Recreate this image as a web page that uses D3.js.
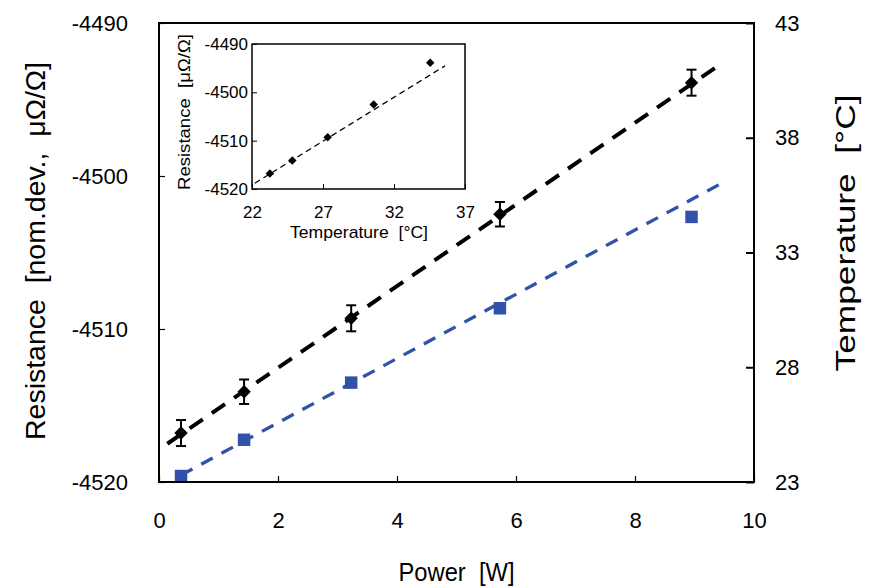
<!DOCTYPE html>
<html>
<head>
<meta charset="utf-8">
<script src="https://cdn.jsdelivr.net/npm/d3@7"></script>
<style>
  body { margin: 0; background: #fff; }
  svg text { font-family: "Liberation Sans", Arial, sans-serif; fill: #000; white-space: pre; }
</style>
</head>
<body>
<div id="chart"></div>
<script>
// values
var power = [0.37, 1.43, 3.23, 5.73, 8.95];
var resistance = [-4516.8, -4514.1, -4509.3, -4502.5, -4493.9];
var resErr = [0.85, 0.8, 0.85, 0.8, 0.85];
var temperature = [23.26, 24.84, 27.33, 30.57, 34.55];

// trend line end points
var resFit = [[0.14, -4517.5], [9.47, -4492.6]];
var tempFit = [[0.37, 23.3], [9.55, 36.15]];
var insetFit = [[22.2, -4518.8], [35.6, -4494.5]];

var powerTicks = [0, 2, 4, 6, 8, 10];
var resTicks = [-4520, -4510, -4500, -4490];
var tempTicks = [23, 28, 33, 38, 43];
var insetTempTicks = [22, 27, 32, 37];

var W = 877, H = 588;
var plot = {left: 159, right: 754, top: 23, bottom: 482};
var box = {left: 252, right: 465, top: 44, bottom: 189};
var blue = "#3152a8";
var plain = function(d) { return String(d); };

var svg = d3.select("#chart").append("svg")
  .attr("width", W)
  .attr("height", H);

var x = d3.scaleLinear().domain([0, 10]).range([plot.left, plot.right]);
var yL = d3.scaleLinear().domain([-4520, -4490]).range([plot.bottom, plot.top]);
var yR = d3.scaleLinear().domain([23, 43]).range([plot.bottom, plot.top]);

var pts = power.map(function(p, i) {
  return {p: p, r: resistance[i], e: resErr[i], t: temperature[i]};
});

// axes (inward ticks)
svg.append("g")
  .attr("transform", "translate(0," + plot.bottom + ")")
  .call(d3.axisBottom(x).tickValues(powerTicks).tickFormat(plain).tickSizeInner(-6).tickSizeOuter(0).tickPadding(30))
  .call(function(g) { g.select(".domain").remove(); })
  .call(function(g) { g.selectAll("text").attr("font-size", 22); g.selectAll("line").attr("stroke-width", 1.2); });

svg.append("g")
  .attr("transform", "translate(" + plot.left + ",0)")
  .call(d3.axisLeft(yL).tickValues(resTicks).tickFormat(plain).tickSizeInner(-6).tickSizeOuter(0).tickPadding(31))
  .call(function(g) { g.select(".domain").remove(); })
  .call(function(g) { g.selectAll("text").attr("font-size", 22); g.selectAll("line").attr("stroke-width", 1.2); });

svg.append("g")
  .attr("transform", "translate(" + plot.right + ",0)")
  .call(d3.axisRight(yR).tickValues(tempTicks).tickFormat(plain).tickSizeInner(-8).tickSizeOuter(0).tickPadding(21))
  .call(function(g) { g.select(".domain").remove(); })
  .call(function(g) { g.selectAll("text").attr("font-size", 22); g.selectAll("line").attr("stroke-width", 2); });

// trend lines
svg.append("path")
  .datum(tempFit)
  .attr("fill", "none")
  .attr("stroke", blue)
  .attr("stroke-width", 3.3)
  .attr("stroke-dasharray", "13,10")
  .attr("d", d3.line().x(function(d) { return x(d[0]); }).y(function(d) { return yR(d[1]); }));

svg.append("path")
  .datum(resFit)
  .attr("fill", "none")
  .attr("stroke", "#000")
  .attr("stroke-width", 4)
  .attr("stroke-dasharray", "16,11")
  .attr("d", d3.line().x(function(d) { return x(d[0]); }).y(function(d) { return yL(d[1]); }));

// temperature squares
svg.append("g").selectAll("path")
  .data(pts)
  .enter().append("path")
  .attr("transform", function(d) { return "translate(" + x(d.p) + "," + yR(d.t) + ")"; })
  .attr("d", d3.symbol().type(d3.symbolSquare).size(156))
  .attr("fill", blue);

// error bars
var eb = svg.append("g").attr("stroke", "#000").attr("stroke-width", 2);
pts.forEach(function(d) {
  var cx = x(d.p);
  eb.append("line").attr("x1", cx).attr("x2", cx).attr("y1", yL(d.r - d.e)).attr("y2", yL(d.r + d.e));
  eb.append("line").attr("x1", cx - 5).attr("x2", cx + 5).attr("y1", yL(d.r - d.e)).attr("y2", yL(d.r - d.e));
  eb.append("line").attr("x1", cx - 5).attr("x2", cx + 5).attr("y1", yL(d.r + d.e)).attr("y2", yL(d.r + d.e));
});

// resistance diamonds
svg.append("g").selectAll("path")
  .data(pts)
  .enter().append("path")
  .attr("transform", function(d) { return "translate(" + x(d.p) + "," + yL(d.r) + ") rotate(45)"; })
  .attr("d", d3.symbol().type(d3.symbolSquare).size(90))
  .attr("fill", "#000");

// frame
svg.append("rect")
  .attr("x", plot.left).attr("y", plot.top)
  .attr("width", plot.right - plot.left).attr("height", plot.bottom - plot.top)
  .attr("fill", "none").attr("stroke", "#000").attr("stroke-width", 2);

// axis titles
svg.append("text")
  .attr("x", (plot.left + plot.right) / 2).attr("y", 581)
  .attr("text-anchor", "middle").attr("font-size", 26)
  .attr("textLength", 116).attr("lengthAdjust", "spacingAndGlyphs")
  .text("Power  [W]");

svg.append("text")
  .attr("transform", "translate(36,251) rotate(-90)")
  .attr("text-anchor", "middle").attr("dy", "0.35em").attr("font-size", 27)
  .attr("textLength", 378).attr("lengthAdjust", "spacingAndGlyphs")
  .text("Resistance  [nom.dev.,  μΩ/Ω]");

svg.append("text")
  .attr("transform", "translate(846,233) rotate(-90)")
  .attr("text-anchor", "middle").attr("dy", "0.35em").attr("font-size", 27)
  .attr("textLength", 277).attr("lengthAdjust", "spacingAndGlyphs")
  .text("Temperature  [°C]");

// inset
var xi = d3.scaleLinear().domain([22, 37]).range([box.left, box.right]);
var yi = d3.scaleLinear().domain([-4520, -4490]).range([box.bottom, box.top]);

var inset = svg.append("g");

inset.append("rect")
  .attr("x", box.left).attr("y", box.top)
  .attr("width", box.right - box.left).attr("height", box.bottom - box.top)
  .attr("fill", "#fff");

inset.append("g")
  .attr("transform", "translate(0," + box.bottom + ")")
  .call(d3.axisBottom(xi).tickValues(insetTempTicks).tickFormat(plain).tickSizeInner(-5).tickSizeOuter(0).tickPadding(17))
  .call(function(g) { g.select(".domain").remove(); })
  .call(function(g) { g.selectAll("text").attr("font-size", 17); });

inset.append("g")
  .attr("transform", "translate(" + box.left + ",0)")
  .call(d3.axisLeft(yi).tickValues(resTicks).tickFormat(plain).tickSizeInner(-5).tickSizeOuter(0).tickPadding(4))
  .call(function(g) { g.select(".domain").remove(); })
  .call(function(g) { g.selectAll("text").attr("font-size", 17); });

inset.append("path")
  .datum(insetFit)
  .attr("fill", "none")
  .attr("stroke", "#000")
  .attr("stroke-width", 1.3)
  .attr("stroke-dasharray", "6,4")
  .attr("d", d3.line().x(function(d) { return xi(d[0]); }).y(function(d) { return yi(d[1]); }));

inset.append("g").selectAll("path")
  .data(pts)
  .enter().append("path")
  .attr("transform", function(d) { return "translate(" + xi(d.t) + "," + yi(d.r) + ") rotate(45)"; })
  .attr("d", d3.symbol().type(d3.symbolSquare).size(36))
  .attr("fill", "#000");

inset.append("rect")
  .attr("x", box.left).attr("y", box.top)
  .attr("width", box.right - box.left).attr("height", box.bottom - box.top)
  .attr("fill", "none").attr("stroke", "#000").attr("stroke-width", 1.5);

inset.append("text")
  .attr("x", 359).attr("y", 238)
  .attr("text-anchor", "middle").attr("font-size", 17)
  .attr("textLength", 138).attr("lengthAdjust", "spacingAndGlyphs")
  .text("Temperature  [°C]");

inset.append("text")
  .attr("transform", "translate(184,112) rotate(-90)")
  .attr("text-anchor", "middle").attr("dy", "0.35em").attr("font-size", 17)
  .attr("textLength", 156).attr("lengthAdjust", "spacingAndGlyphs")
  .text("Resistance  [μΩ/Ω]");
</script>
</body>
</html>
